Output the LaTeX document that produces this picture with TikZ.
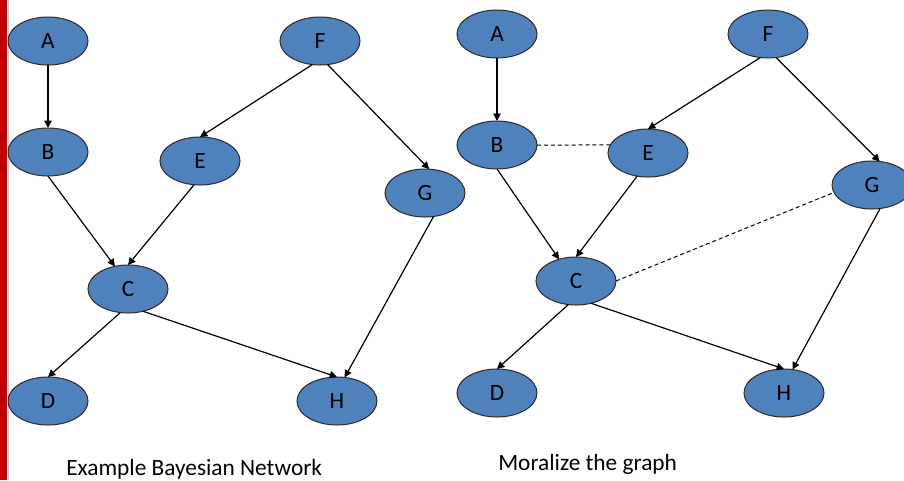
\documentclass[tikz,border=0pt]{standalone}
\usepackage{fontspec}
\setmainfont{Carlito}
\usetikzlibrary{shapes.geometric,arrows.meta}

\definecolor{nodeblue}{HTML}{4F81BD}
\definecolor{nodeedge}{HTML}{2B2B2B}
\definecolor{barred}{HTML}{C00000}
\definecolor{barline}{HTML}{B8CCE4}

\tikzset{
  var/.style={ellipse, draw=nodeedge, fill=nodeblue, line width=0.75pt,
    minimum width=60pt, minimum height=36pt, inner sep=0pt, outer sep=0pt,
    font=\fontsize{17.5}{20}\selectfont, text=black},
  dep/.style={line width=0.9pt, -{Triangle[length=5.5pt,width=5.5pt]}},
  moral/.style={line width=0.75pt, dash pattern=on 3pt off 2.2pt},
  caption/.style={anchor=base west, inner sep=0pt, font=\fontsize{17.5}{20}\selectfont}
}

\begin{document}
\begin{tikzpicture}[x=0.75pt,y=-0.75pt]
  \useasboundingbox (0,0) rectangle (904,480);

  % side bar
  \fill[barred] (0,0) rectangle (6.5,480);
  \draw[barline, line width=0.9pt] (8.3,0) -- (8.3,480);

  % ---------- Bayesian network ----------
  \node[var] (A1) at (48,41)  {A};
  \node[var] (B1) at (48,152) {B};
  \node[var] (E1) at (200,161) {E};
  \node[var] (F1) at (320,41) {F};
  \node[var] (G1) at (425,193) {G};
  \node[var] (C1) at (128,289) {C};
  \node[var] (D1) at (48,401) {D};
  \node[var] (H1) at (337,401) {H};

  \draw[dep] (A1.south) -- (B1.north);
  \draw[dep] (F1.252) -- (E1.north);
  \draw[dep] (F1.-72) -- (G1.80);
  \draw[dep] (B1.south) -- (C1.120);
  \draw[dep] (E1.256) -- (C1.north);
  \draw[dep] (G1.-70) -- (H1.72);
  \draw[dep] (C1.252) -- (D1.north);
  \draw[dep] (C1.-56) -- (H1.north);

  \node[caption] (cap1) at (66,475) {Example Bayesian Network};

  % ---------- moralized graph ----------
  \node[var] (A2) at (497,34)  {A};
  \node[var] (B2) at (497,145) {B};
  \node[var] (E2) at (648,153) {E};
  \node[var] (F2) at (768,34)  {F};
  \node[var] (G2) at (872,185) {G};
  \node[var] (C2) at (576,281) {C};
  \node[var] (D2) at (497,393) {D};
  \node[var] (H2) at (784,393) {H};

  \draw[dep] (A2.south) -- (B2.north);
  \draw[dep] (F2.252) -- (E2.north);
  \draw[dep] (F2.-71) -- (G2.72);
  \draw[dep] (B2.south) -- (C2.128);
  \draw[dep] (E2.245) -- (C2.north);
  \draw[dep] (G2.-71) -- (H2.70);
  \draw[dep] (C2.252) -- (D2.north);
  \draw[dep] (C2.-56) -- (H2.north);

  % links added between co-parents
  \draw[moral] (B2.east) -- (E2.168);
  \draw[moral] (C2.east) -- (G2.191);

  \node[caption] (cap2) at (498,470) {Moralize the graph};
\end{tikzpicture}
\end{document}
